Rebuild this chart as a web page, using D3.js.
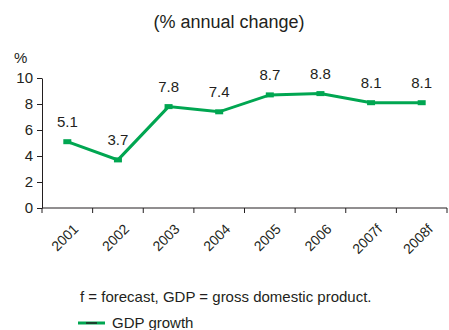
<!DOCTYPE html>
<html>
<head>
<meta charset="utf-8">
<title>GDP growth</title>
<script src="https://d3js.org/d3.v7.min.js"></script>
<style>
  body { margin: 0; background: #fff; }
  svg text { font-family: "Liberation Sans", Arial, sans-serif; fill: #231f20; }
</style>
</head>
<body>
<div id="chart"></div>
<script>
// data
const years = ["2001", "2002", "2003", "2004", "2005", "2006", "2007f", "2008f"];
const growth = [5.1, 3.7, 7.8, 7.4, 8.7, 8.8, 8.1, 8.1];
const yTicks = [0, 2, 4, 6, 8, 10];

const width = 449, height = 330;
const plotLeft = 42, plotRight = 447, plotTop = 78, plotBottom = 208;
const green = "#00a651";

const svg = d3.select("#chart").append("svg")
  .attr("width", width)
  .attr("height", height);

const x = d3.scaleBand().domain(years).range([plotLeft, plotRight]);
const y = d3.scaleLinear().domain([0, 10]).range([plotBottom, plotTop]);

// title
svg.append("text")
  .attr("x", 229).attr("y", 28)
  .attr("text-anchor", "middle")
  .style("font-size", "18px")
  .text("(% annual change)");

svg.append("text")
  .attr("x", 14).attr("y", 63)
  .style("font-size", "15px")
  .text("%");

// y axis
const yAxis = svg.append("g")
  .attr("transform", `translate(${plotLeft},0)`)
  .call(d3.axisLeft(y).tickValues(yTicks).tickSize(5).tickPadding(4).tickSizeOuter(0));
yAxis.selectAll("text").style("font-size", "15px").attr("fill", "#231f20");
yAxis.selectAll("line, path").attr("stroke", "#231f20");

// x axis (ticks at category boundaries)
const xAxis = svg.append("g")
  .attr("transform", `translate(0,${plotBottom})`);
xAxis.append("line")
  .attr("x1", plotLeft).attr("x2", plotRight)
  .attr("stroke", "#231f20");
xAxis.selectAll("line.tick")
  .data(years.concat(["end"]))
  .join("line")
  .attr("class", "tick")
  .attr("x1", (d, i) => plotLeft + i * x.bandwidth())
  .attr("x2", (d, i) => plotLeft + i * x.bandwidth())
  .attr("y1", 0).attr("y2", 5)
  .attr("stroke", "#231f20");
xAxis.selectAll("text")
  .data(years)
  .join("text")
  .attr("text-anchor", "end")
  .attr("transform", d => `translate(${x(d) + x.bandwidth() / 2 + 12},${22}) rotate(-45)`)
  .style("font-size", "14px")
  .text(d => d);

const cx = (d, i) => x(years[i]) + x.bandwidth() / 2;

// line
svg.append("path")
  .datum(growth)
  .attr("fill", "none")
  .attr("stroke", green)
  .attr("stroke-width", 3)
  .attr("d", d3.line().x(cx).y(d => y(d)));

// markers
svg.selectAll("rect.marker")
  .data(growth)
  .join("rect")
  .attr("class", "marker")
  .attr("x", (d, i) => cx(d, i) - 4)
  .attr("y", d => y(d) - 2.5)
  .attr("width", 8).attr("height", 5)
  .attr("fill", green);

// value labels
svg.selectAll("text.val")
  .data(growth)
  .join("text")
  .attr("class", "val")
  .attr("x", cx)
  .attr("y", d => y(d) - 15)
  .attr("text-anchor", "middle")
  .style("font-size", "15px")
  .text(d => d.toFixed(1));

// footnote
svg.append("text")
  .attr("x", 80).attr("y", 302)
  .style("font-size", "15px")
  .text("f = forecast, GDP = gross domestic product.");

// legend
const lg = svg.append("g").attr("transform", "translate(78,323)");
lg.append("line").attr("x1", 0).attr("x2", 27).attr("stroke", green).attr("stroke-width", 3);
lg.append("line").attr("x1", 8).attr("x2", 19).attr("stroke", "#231f20").attr("stroke-width", 1.5);
lg.append("text")
  .attr("x", 34).attr("y", 5)
  .style("font-size", "15px")
  .text("GDP growth");
</script>
</body>
</html>
